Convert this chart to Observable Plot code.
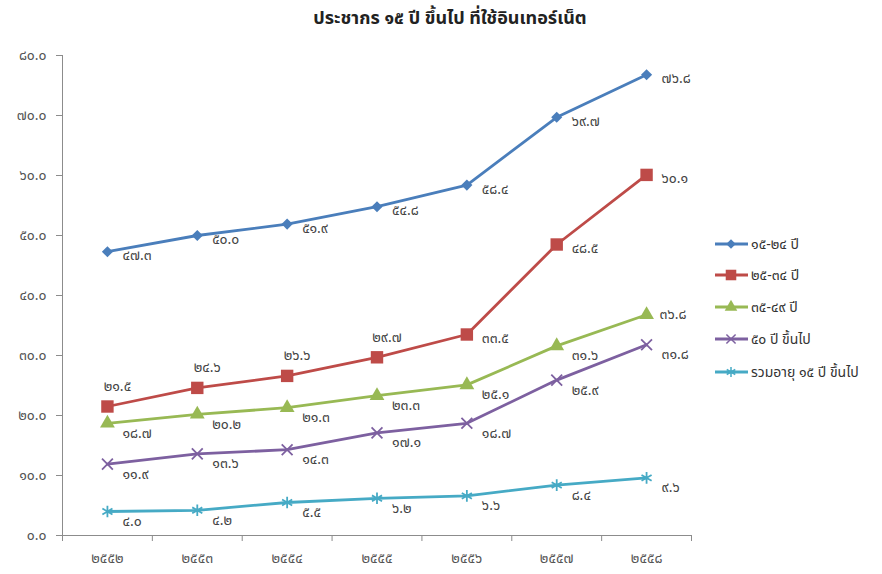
<!DOCTYPE html>
<html><head><meta charset="utf-8">
<script src="https://cdn.jsdelivr.net/npm/d3@7"></script>
<script src="https://cdn.jsdelivr.net/npm/@observablehq/plot@0.6"></script>
<style>
body{margin:0;background:#fff;font-family:Tahoma,"Noto Sans Thai","Noto Sans Thai UI",Loma,Garuda,"DejaVu Sans",sans-serif;}
#wrap{position:relative;width:882px;height:574px;overflow:hidden;background:#fff}
#title{position:absolute;left:0;width:900px;top:5px;text-align:center;font-weight:bold;font-size:18px;color:#222}
#legend{position:absolute;left:0;top:0}
#chart{position:absolute;left:0;top:0}
</style></head><body>
<div id="wrap"><div id="chart"></div><div id="title"></div><svg id="legend" width="882" height="574"></svg></div>
<script>
const title = "ประชากร ๑๕ ปี ขึ้นไป ที่ใช้อินเทอร์เน็ต";
const years = ["๒๕๕๒","๒๕๕๓","๒๕๕๔","๒๕๕๕","๒๕๕๖","๒๕๕๗","๒๕๕๘"];
const seriesNames = ["๑๕-๒๔ ปี","๒๕-๓๔ ปี","๓๕-๔๙ ปี","๕๐ ปี ขึ้นไป","รวมอายุ ๑๕ ปี ขึ้นไป"];
const age15to24 = [47.3, 50.0, 51.9, 54.8, 58.4, 69.7, 76.8];
const age25to34 = [21.5, 24.6, 26.6, 29.7, 33.5, 48.5, 60.1];
const age35to49 = [18.7, 20.2, 21.3, 23.3, 25.1, 31.6, 36.8];
const age50plus = [11.9, 13.6, 14.3, 17.1, 18.7, 25.9, 31.8];
const allAges15 = [4.0, 4.2, 5.5, 6.2, 6.6, 8.4, 9.6];
const yTicks = [0, 10, 20, 30, 40, 50, 60, 70, 80];

const seriesValues = [age15to24, age25to34, age35to49, age50plus, allAges15];
const colors = ["#4a7ebb", "#be4b48", "#98b954", "#7d60a0", "#46aac5"];
const symbols = ["diamond2", "square", "triangle", "times", "asterisk"];
const radii = [5, 7, 5.5, 5, 5.5];
const filled = [true, true, true, false, false];

const thaiDigits = "๐๑๒๓๔๕๖๗๘๙";
const thai = s => String(s).replace(/[0-9]/g, d => thaiDigits[+d]);
const fmt = v => thai((+v).toFixed(1));

document.getElementById("title").textContent = title;

const idx = years.map((_, i) => i);
const boundaries = years.map((_, i) => i - 0.5).concat([years.length - 0.5]);
const fontFamily = 'Tahoma,"Noto Sans Thai","Noto Sans Thai UI",Loma,Garuda,"DejaVu Sans",sans-serif';

// label placement groups (style only)
function labelGroup(s, i) {
  if (s === 1 && i < 4) return "above";
  if (s === 1) return "right";
  if (s === 0) return "right";
  if (s === 2 && i === years.length - 1) return "rightLevel";
  return "below";
}
const groupOpts = {
  above: {dx: 10, dy: -20, textAnchor: "middle"},
  right: {dx: 15, dy: 4, textAnchor: "start"},
  rightLevel: {dx: 13, dy: 0, textAnchor: "start"},
  below: {dx: 15, dy: 10, textAnchor: "start"}
};

const marks = [
  Plot.axisY(yTicks, {label: null, tickFormat: fmt, tickSize: 6, tickPadding: 10, stroke: "#8c8c8c", fill: "#555", fontSize: 14}),
  Plot.axisX(boundaries, {label: null, tickFormat: () => "", tickSize: 6, stroke: "#8c8c8c"}),
  Plot.axisX(idx, {label: null, tickFormat: i => years[i], tickSize: 0, tickPadding: 18, fill: "#555", fontSize: 14}),
  Plot.ruleX([-0.5], {stroke: "#8c8c8c"}),
  Plot.ruleY([0], {stroke: "#8c8c8c"})
];

seriesValues.forEach((vals, s) => {
  const data = vals.map((v, i) => ({i, v, g: labelGroup(s, i)}));
  marks.push(Plot.line(data, {x: "i", y: "v", stroke: colors[s], strokeWidth: 2.8}));
  marks.push(Plot.dot(data, filled[s]
    ? {x: "i", y: "v", symbol: symbols[s], r: radii[s], fill: colors[s], stroke: "none"}
    : {x: "i", y: "v", symbol: symbols[s], r: radii[s], stroke: colors[s], strokeWidth: 1.8, fill: "none"}));
  for (const g of Object.keys(groupOpts)) {
    const sub = data.filter(d => d.g === g);
    if (sub.length) marks.push(Plot.text(sub, {x: "i", y: "v", text: d => fmt(d.v), fill: "#444", fontSize: 14, ...groupOpts[g]}));
  }
});

const chart = Plot.plot({
  width: 882, height: 574,
  marginLeft: 62, marginRight: 191, marginTop: 55, marginBottom: 39,
  style: {fontFamily, fontSize: "14px", color: "#555", background: "transparent"},
  x: {type: "linear", domain: [-0.5, years.length - 0.5], axis: null},
  y: {domain: [0, 80], axis: null},
  marks
});
document.getElementById("chart").appendChild(chart);

// legend
const leg = d3.select("#legend");
const legY = [244, 275, 307, 339, 372];
const symMap = {diamond2: d3.symbolDiamond2, square: d3.symbolSquare, triangle: d3.symbolTriangle, times: d3.symbolTimes, asterisk: d3.symbolAsterisk};
seriesNames.forEach((name, s) => {
  const g = leg.append("g").attr("transform", `translate(0,${legY[s]})`);
  g.append("line").attr("x1", 715).attr("x2", 748).attr("y1", 0).attr("y2", 0)
    .attr("stroke", colors[s]).attr("stroke-width", 2.8);
  const r = radii[s] * 0.85;
  g.append("path").attr("transform", "translate(731,0)")
    .attr("d", d3.symbol(symMap[symbols[s]], Math.PI * r * r)())
    .attr("fill", filled[s] ? colors[s] : "none")
    .attr("stroke", filled[s] ? "none" : colors[s])
    .attr("stroke-width", 1.5);
  g.append("text").attr("x", 751).attr("y", 5).attr("fill", "#333")
    .attr("font-size", 14).attr("font-family", fontFamily).text(name);
});
</script>
</body></html>
